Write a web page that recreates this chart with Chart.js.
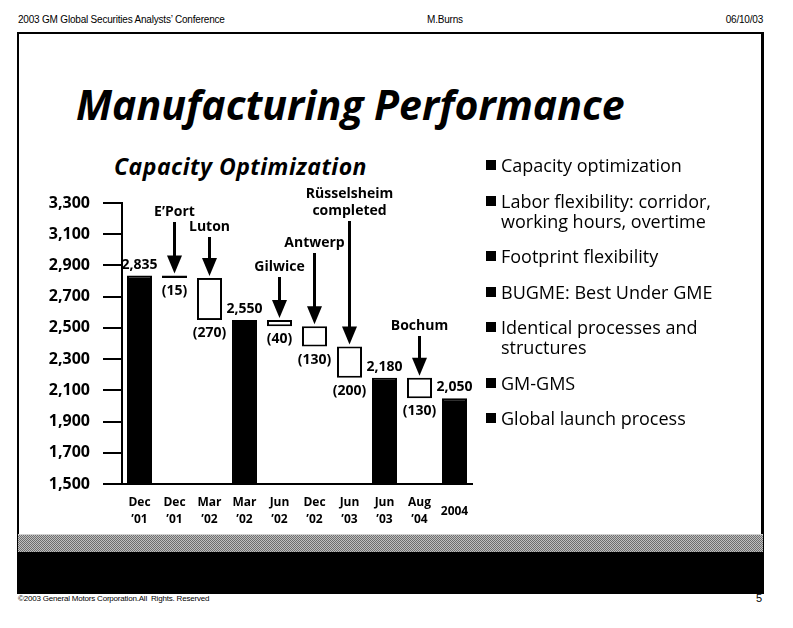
<!DOCTYPE html>
<html>
<head>
<meta charset="utf-8">
<script src="https://cdn.jsdelivr.net/npm/chart.js@4/dist/chart.umd.min.js"></script>
<style>
    html, body { margin: 0; padding: 0; background: #fff; }
    #page { position: relative; width: 793px; height: 628px; overflow: hidden; font-family: 'Open Sans', sans-serif; color: #000; }
    #page canvas { position: absolute; left: 0; top: 0; }
    .abs { position: absolute; white-space: nowrap; }
    .hdr { font-family: 'Liberation Sans', sans-serif; font-size: 10px; top: 14px; letter-spacing: -0.2px; }
    #frame { position: absolute; left: 17px; top: 32px; width: 747px; height: 562px; box-sizing: border-box; border: 2px solid #000; border-right-width: 3px; }
    #grayband { position: absolute; left: 18px; top: 534px; width: 745px; height: 18px; border-top: 1px solid #d0d0d0; box-sizing: border-box;
        background: repeating-conic-gradient(#6e6e6e 0% 25%, #c0c0c0 0% 50%) 0 0 / 2px 2px; }
    #blackband { position: absolute; left: 18px; top: 552px; width: 745px; height: 41px; background: #000; }
    #title { left: 76px; top: 80px; font-size: 41px; font-weight: 700; font-style: italic; line-height: 48px; }
    #subtitle { left: 114px; top: 152px; font-size: 23px; font-weight: 700; font-style: italic; line-height: 28px; letter-spacing: 0.5px; }
    .bullet { position: absolute; left: 486px; font-size: 18px; line-height: 20px; padding-left: 15px; white-space: nowrap; }
    .bullet:before { content: ''; position: absolute; left: 0; top: 5px; width: 10px; height: 10px; background: #000; }
</style>
</head>
<body>
<div id="page">
    <div id="frame"></div>
    <div id="grayband"></div>
    <div id="blackband"></div>
    <div class="abs hdr" style="left:18px;">2003 GM Global Securities Analysts’ Conference</div>
    <div class="abs hdr" style="left:427px;">M.Burns</div>
    <div class="abs hdr" style="right:30px;">06/10/03</div>
    <div class="abs" style="left:18px; top:594px; font-family:'Liberation Sans',sans-serif; font-size:8px; letter-spacing:-0.2px;">©2003 General Motors Corporation.All&nbsp; Rights. Reserved</div>
    <div class="abs" style="right:31px; top:592px; font-family:'Liberation Sans',sans-serif; font-size:11px;">5</div>
    <div class="abs" id="title">Manufacturing Performance</div>
    <div class="abs" id="subtitle">Capacity Optimization</div>
    <canvas id="chart" width="793" height="628"></canvas>
    <div class="bullet" style="top:155px;">Capacity optimization</div>
    <div class="bullet" style="top:191px;">Labor flexibility: corridor,<br>working hours, overtime</div>
    <div class="bullet" style="top:246px;">Footprint flexibility</div>
    <div class="bullet" style="top:282px;">BUGME: Best Under GME</div>
    <div class="bullet" style="top:317px;">Identical processes and<br>structures</div>
    <div class="bullet" style="top:373px;">GM-GMS</div>
    <div class="bullet" style="top:408px;">Global launch process</div>
</div>
<script>
const categories = [["Dec", "’01"], ["Dec", "’01"], ["Mar", "’02"], ["Mar", "’02"], ["Jun", "’02"], ["Dec", "’02"], ["Jun", "’03"], ["Jun", "’03"], ["Aug", "’04"], "2004"];
const capacity = [2835, null, null, 2550, null, null, null, 2180, null, 2050];
const reductions = [null, 15, 270, null, 40, 130, 200, null, 130, null];
const plants = [null, ["E’Port"], ["Luton"], null, ["Gilwice"], ["Antwerp"], ["Rüsselsheim", "completed"], null, ["Bochum"], null];
const yTicks = { min: 1500, max: 3300, step: 200 };

// floating bars: totals sit on the axis, reductions hang from the running level
var level = 0;
var bars = [];
for (let i = 0; i < categories.length; i++) {
    if (capacity[i] != null) {
        level = capacity[i];
        bars.push([yTicks.min, level]);
    } else {
        bars.push([level - reductions[i], level]);
        level -= reductions[i];
    }
}

const waterfallLabels = {
    id: 'waterfallLabels',
    afterDatasetsDraw(chart, args, opts) {
        var ctx = chart.ctx;
        var meta = chart.getDatasetMeta(0);
        ctx.save();
        ctx.fillStyle = '#000';
        ctx.strokeStyle = '#000';
        ctx.font = "bold 14px 'Open Sans'";
        ctx.textAlign = 'center';
        ctx.textBaseline = 'middle';
        meta.data.forEach((bar, i) => {
            var top = Math.min(bar.y, bar.base);
            var bottom = Math.max(bar.y, bar.base);
            if (capacity[i] != null) {
                ctx.fillText(capacity[i].toLocaleString('en-US'), bar.x, top - 11);
                return;
            }
            ctx.fillText('(' + reductions[i] + ')', bar.x, bottom + 13);
            var lines = plants[i];
            var ly = opts.labelY[i];
            lines.forEach((t, k) => ctx.fillText(t, bar.x, ly - (lines.length - 1 - k) * 17));
            var tip = top - 2;
            ctx.lineWidth = 3;
            ctx.beginPath();
            ctx.moveTo(bar.x, ly + 10);
            ctx.lineTo(bar.x, tip - 12);
            ctx.stroke();
            ctx.beginPath();
            ctx.moveTo(bar.x - 7.5, tip - 18);
            ctx.lineTo(bar.x + 7.5, tip - 18);
            ctx.lineTo(bar.x, tip);
            ctx.closePath();
            ctx.fill();
        });
        ctx.restore();
    }
};

var ctx = document.getElementById('chart').getContext('2d');
var chart = new Chart(ctx, {
    type: 'bar',
    data: {
        labels: categories,
        datasets: [{
            data: bars,
            backgroundColor: capacity.map(v => v != null ? '#000' : '#fff'),
            borderColor: '#000',
            borderWidth: 2,
            borderSkipped: false,
            barPercentage: 0.715,
            categoryPercentage: 1
        }]
    },
    options: {
        responsive: false,
        animation: false,
        events: [],
        layout: { padding: { left: 0, top: 203, right: 321, bottom: 84 } },
        plugins: {
            legend: { display: false },
            tooltip: { enabled: false },
            waterfallLabels: { labelY: [null, 212, 227, null, 267, 243, 211, null, 326, null] }
        },
        scales: {
            x: {
                afterFit: s => { s.height = 60; },
                grid: { display: false, drawTicks: false },
                border: { display: true, color: '#000', width: 2 },
                ticks: {
                    color: '#000',
                    padding: 19,
                    maxRotation: 0,
                    autoSkip: false,
                    crossAlign: 'center',
                    font: { family: "'Open Sans'", size: 12, weight: 'bold', lineHeight: 1.35 }
                }
            },
            y: {
                min: yTicks.min,
                max: yTicks.max,
                afterFit: s => { s.width = 122; },
                grid: { drawOnChartArea: false, drawTicks: true, tickLength: 19, color: '#000', lineWidth: 2 },
                border: { display: true, color: '#000', width: 2 },
                ticks: {
                    stepSize: yTicks.step,
                    color: '#000',
                    padding: 13,
                    font: { family: "'Open Sans'", size: 16, weight: 'bold' },
                    callback: v => v.toLocaleString('en-US')
                }
            }
        }
    },
    plugins: [waterfallLabels]
});
</script>
</body>
</html>
